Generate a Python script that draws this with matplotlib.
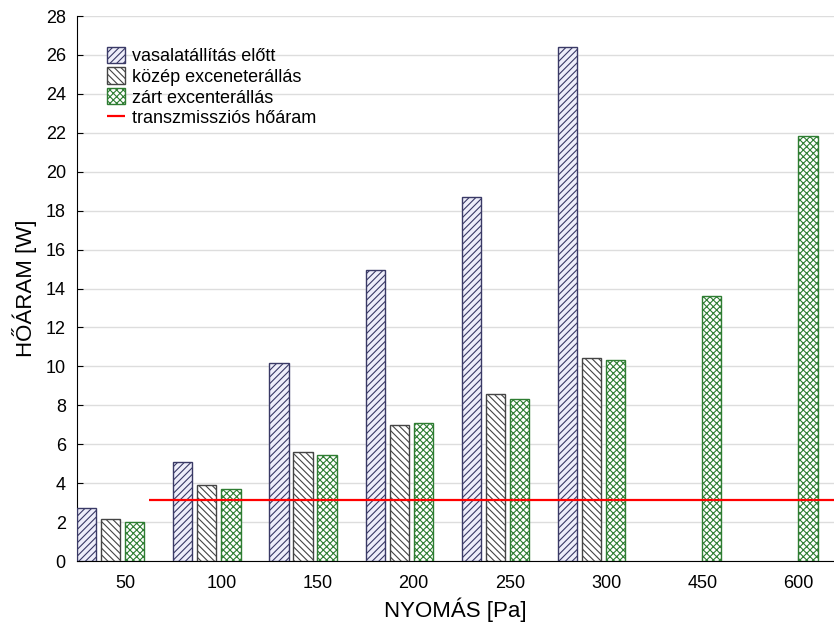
import numpy as np
import matplotlib
matplotlib.use("Agg")
from matplotlib import pyplot as plt

plt.rcParams["font.family"] = ["Liberation Sans", "DejaVu Sans"]
plt.rcParams["hatch.linewidth"] = 0.8

pressure = ["50", "100", "150", "200", "250", "300", "450", "600"]
before = [2.7, 5.1, 10.15, 14.95, 18.7, 26.4, np.nan, np.nan]
middle = [2.15, 3.9, 5.6, 7.0, 8.58, 10.43, np.nan, np.nan]
closed = [2.0, 3.7, 5.45, 7.08, 8.3, 10.32, 13.62, 21.84]
transmission = 3.13

labels = [
    "vasalatállítás előtt",
    "közép exceneterállás",
    "zárt excenterállás",
    "transzmissziós hőáram",
]


def main():
    fig = plt.figure(figsize=(8.34, 6.3), dpi=100)
    ax = fig.add_axes([0.0923, 0.1095, 0.9077, 0.8651])

    x = np.arange(len(pressure))
    w = 0.2
    b1 = ax.bar(x - 0.5, before, w, align="edge", facecolor="#eeeefa",
                edgecolor="#3a3a66", hatch="/////", lw=1.0, label=labels[0], zorder=3)
    b2 = ax.bar(x - 0.25, middle, w, align="edge", facecolor="white",
                edgecolor="#444444", hatch="\\\\\\\\\\", lw=1.0, label=labels[1], zorder=3)
    b3 = ax.bar(x, closed, w, align="edge", facecolor="white",
                edgecolor="#2e7d32", hatch="xxxxx", lw=1.0, label=labels[2], zorder=3)
    ln = ax.hlines(transmission, 0.25, 7.6, color="red", lw=1.6, label=labels[3], zorder=4)

    ax.set_xlim(-0.5, 7.37)
    ax.set_ylim(0, 28)
    ax.set_yticks(np.arange(0, 29, 2))
    ax.set_xticks(x)
    ax.set_xticklabels(pressure)
    ax.tick_params(direction="in", labelsize=13, length=4, pad=8)
    ax.tick_params(axis="x", pad=10)
    ax.yaxis.grid(True, color="#dddddd", lw=1.0, zorder=0)
    for s in ["top", "right"]:
        ax.spines[s].set_visible(False)

    ax.set_xlabel("NYOMÁS [Pa]", fontsize=16, labelpad=4)
    ax.set_ylabel("HŐÁRAM [W]", fontsize=16, labelpad=6)

    ax.legend([b1, b2, b3, ln], labels, loc="upper left",
              bbox_to_anchor=(0.03, 0.957), frameon=False,
              fontsize=13, handlelength=1.0, handleheight=1.0, handletextpad=0.4,
              labelspacing=0.14, borderaxespad=0)

    fig.savefig("out.png", dpi=100)


if __name__ == "__main__":
    main()
